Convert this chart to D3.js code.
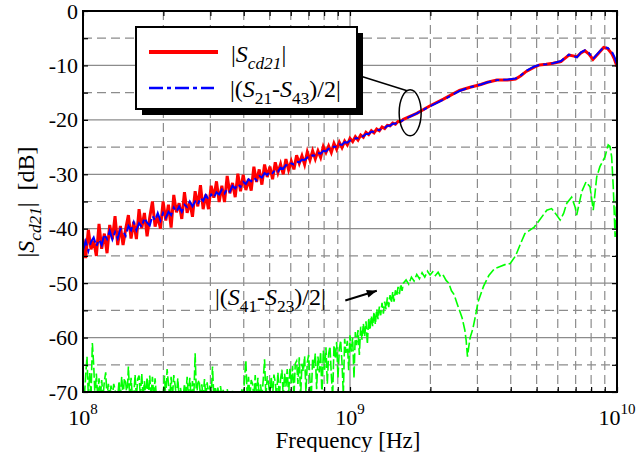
<!DOCTYPE html>
<html>
<head>
<meta charset="utf-8">
<script src="https://cdn.jsdelivr.net/npm/d3@7"></script>
</head>
<body style="margin:0;background:#fff;overflow:hidden;position:relative">
<div id="xlabel" style="position:absolute;left:0;top:429px;width:696px;text-align:center;font-family:'Liberation Serif';font-size:23px;line-height:23px;color:#000">Frequency [Hz]</div>
<script>
// |Scd21| sampled on the sweep grid 10^8.00 .. 10^9.20, every 0.01 decade
const redLowDb = [
  -41.9,-45.4,-40.2,-43.8,-42.2,-45.0,-39.1,-43.7,-40.9,-44.5,
  -39.3,-41.9,-37.7,-43.0,-39.5,-43.0,-40.0,-37.5,-41.8,-38.7,
  -41.9,-36.4,-39.9,-37.1,-41.4,-37.9,-35.0,-39.6,-37.7,-40.0,
  -35.0,-38.5,-35.6,-39.8,-33.8,-37.0,-35.3,-38.2,-33.3,-37.1,
  -35.1,-37.8,-33.1,-35.9,-32.0,-36.4,-33.7,-36.4,-32.1,-34.3,
  -31.3,-35.1,-32.1,-35.1,-30.3,-33.5,-31.6,-34.2,-29.9,-33.1,
  -30.1,-32.9,-30.9,-33.0,-28.6,-31.4,-29.1,-31.9,-28.2,-30.5,
  -28.6,-30.9,-27.8,-29.7,-28.1,-30.0,-27.2,-29.2,-27.6,-29.1,
  -26.5,-28.0,-26.6,-28.2,-25.9,-27.4,-25.7,-27.2,-25.7,-26.9,
  -24.9,-26.0,-24.8,-26.0,-24.3,-25.4,-24.1,-25.1,-23.9,-24.6,
  -23.4,-24.0,-23.1,-23.7,-22.8,-23.2,-22.3,-22.7,-22.0,-22.4,
  -21.7,-22.0,-21.3,-21.6,-21.0,-21.1,-20.6,-20.8,-20.3,-20.3,
  -19.9];
// |(S21-S43)/2| on the same grid
const blueLowDb = [
  -44.0,-42.3,-44.1,-42.4,-41.6,-43.2,-42.0,-43.0,-41.0,-41.9,
  -40.4,-42.0,-40.6,-41.8,-40.0,-40.4,-41.3,-39.5,-40.3,-38.8,
  -40.3,-39.0,-39.7,-38.0,-38.9,-39.4,-37.6,-38.5,-37.1,-38.5,
  -37.1,-38.0,-36.9,-37.5,-36.1,-36.9,-35.9,-36.9,-35.6,-36.0,
  -35.0,-35.9,-35.0,-35.6,-34.3,-34.9,-33.8,-34.6,-33.7,-34.3,
  -33.3,-33.7,-32.8,-33.5,-32.7,-33.2,-32.1,-32.6,-31.8,-32.3,
  -31.4,-31.8,-30.9,-31.3,-30.6,-31.1,-30.3,-30.6,-29.8,-30.1,
  -29.5,-29.8,-29.2,-29.5,-28.8,-29.0,-28.3,-28.5,-28.0,-28.2,
  -27.7,-27.8,-27.3,-27.4,-26.9,-27.0,-26.5,-26.6,-26.1,-26.2,
  -25.7,-25.8,-25.3,-25.4,-24.9,-25.0,-24.5,-24.6,-24.1,-24.2,
  -23.8,-23.8,-23.4,-23.4,-23.0,-23.0,-22.6,-22.6,-22.2,-22.2,
  -21.8,-21.9,-21.5,-21.5,-21.1,-21.1,-20.7,-20.7,-20.3,-20.3,
  -20.0];

// upper band, log10(f) and dB
const hiLogF  = [9.25,9.30,9.35,9.41,9.45,9.49,9.515,9.55,9.59,9.62,9.64,9.66,9.69,9.71,9.735,
                 9.76,9.79,9.80,9.82,9.85,9.865,9.88,9.895,9.91,9.93,9.95,9.965,9.98,9.99,10.0];
const redHiDb = [-18.8,-17.4,-16.2,-14.6,-14.0,-13.5,-13.1,-12.7,-12.7,-12.5,-11.9,-11.1,-10.3,-9.9,-9.8,
                 -9.6,-9.3,-8.9,-8.1,-8.4,-7.7,-7.3,-7.9,-8.9,-7.8,-6.7,-6.9,-7.8,-8.8,-10.2];
const blueHiDb = [-18.8,-17.5,-16.3,-14.7,-14.0,-13.5,-13.1,-12.7,-12.6,-12.4,-11.8,-11.0,-10.2,-9.9,-9.8,
                  -9.6,-9.2,-8.8,-8.0,-8.5,-7.6,-7.2,-7.7,-8.8,-7.7,-6.6,-6.8,-7.4,-8.4,-9.8];

// |(S41-S23)/2| on grid 10^8.000 .. 10^9.200, every 0.005 decade (values under -70 are off the plot)
const greenLowDb = [
  -69,-71,-67,-63.5,-71,-66.5,-71,-61,-65,-71,-66.6,-71,-67.5,-71,-67.8,-71,-68,-66.4,-71,-68.5,
  -71,-68.8,-71,-68.5,-69.5,-71,-71,-68,-71,-67.2,-71,-67.5,-68.3,-71,-65.3,-71,-67.4,-71,-71,-66.8,
  -71,-67.6,-67,-71,-66.6,-71,-68,-71,-67.3,-71,-67,-71,-67.2,-71,-67.5,-71,-71,-70.2,-71,-71,
  -71,-67,-71,-65.8,-68.5,-71,-67.2,-71,-66.9,-68.8,-71,-67.5,-71,-69.2,-71,-71,-68.5,-71,-67.2,-71,
  -67.4,-71,-68,-71,-62.9,-71,-68.4,-67.8,-71,-68.6,-71,-67.6,-71,-68.2,-71,-68.8,-71,-65.3,-71,-69,
  -71,-69.2,-71,-68.9,-71,-69.6,-71,-71,-69.4,-71,-71,-71,-69.8,-71,-71,-71,-70.3,-71,-71,-69.5,
  -71,-67.6,-64.2,-71,-67.2,-71,-67.8,-68.5,-71,-66.9,-71,-67.4,-71,-68.6,-71,-67.8,-64.0,-71,-67.1,-68.4,
  -71,-67.2,-71,-66.8,-68.2,-71,-66.4,-71,-67.6,-65.9,-71,-66.6,-69,-65.8,-71,-65.5,-68.4,-65.2,-71,-64.8,
  -64.3,-68.5,-63.6,-71,-64.8,-66.2,-63.4,-70,-64.6,-63.2,-67.8,-71,-63.8,-65.6,-62.9,-69.5,-63.5,-66.4,-62.6,-71,
  -62.4,-65.9,-61.8,-68.5,-63.0,-61.6,-66.8,-71,-61.4,-63.9,-60.8,-67.4,-62.2,-60.5,-64.6,-70.5,-60.2,-62.8,-60.6,-66.0,
  -59.6,-62.6,-60.0,-67.5,-59.0,-61.4,-58.6,-63.2,-58.0,-60.4,-57.4,-59.8,-57.0,-61.2,-56.4,-58.6,-56.0,-57.9,-55.3,-57.6,
  -54.8,-56.6,-54.3,-55.9,-53.6,-55.6,-53.4,-54.8,-52.6,-54.4,-52.2,-53.6,-51.6,-53.4,-51.3,-52.4,-50.7,-52.0,-50.2,-51.4,
  -50.0];
const greenHiLogF = [9.21,9.22,9.23,9.24,9.25,9.26,9.27,9.28,9.29,9.30,9.31,9.32,9.33,9.34,9.35,9.36,9.37,9.38,9.39,9.40,
  9.41,9.42,9.43,9.435,9.44,9.445,9.45,9.46,9.47,9.48,9.49,9.50,9.51,9.52,9.53,9.54,9.56,9.58,9.60,9.62,
  9.64,9.655,9.69,9.71,9.737,9.755,9.774,9.787,9.80,9.812,9.83,9.843,9.849,9.868,9.884,9.899,9.911,9.924,9.936,9.955,
  9.967,9.974,9.980,9.986,9.993,10.0];
const greenHiDb = [-49.4,-50.2,-48.9,-49.6,-48.4,-49.2,-48.1,-48.9,-47.8,-48.5,-47.9,-48.6,-48.0,-48.9,-48.6,-49.5,-50.0,-51.4,-52.1,-53.6,
  -55.0,-56.4,-58.6,-60.5,-63.5,-61.6,-60.0,-58.4,-56.0,-53.4,-52.0,-50.6,-49.6,-48.6,-48.0,-47.4,-47.0,-46.6,-46.4,-45.0,
  -42.6,-40.9,-39.7,-38.4,-36.6,-36.3,-37.5,-38.4,-37.2,-35.3,-34.2,-36.0,-37.5,-33.2,-31.4,-32.3,-36.6,-30.5,-28.6,-26.8,
  -24.6,-24.9,-26.8,-32.3,-41.5,-32.3];

const yTicks = d3.range(-70, 1, 5);
const decades = [8, 9, 10];

const W = 638, H = 452;
const L = 83, R = 617, T = 11, B = 392;
const FONT = "Liberation Serif";

const x = d3.scaleLog().domain([1e8, 1e10]).range([L, R]);
const y = d3.scaleLinear().domain([-70, 0]).range([B, T]);

// build point lists
const grid = (arr, step) => arr.map((v, i) => ({ f: Math.pow(10, 8 + i * step), v }));
const pairs = (lf, vs) => lf.map((l, i) => ({ f: Math.pow(10, l), v: vs[i] }));
const redData   = grid(redLowDb, 0.01).concat(pairs(hiLogF, redHiDb));
const blueData  = grid(blueLowDb, 0.01).concat(pairs(hiLogF, blueHiDb));
const greenData = grid(greenLowDb, 0.005).concat(pairs(greenHiLogF, greenHiDb));

const svg = d3.select("body").insert("svg", "#xlabel").attr("width", W).attr("height", H)
  .style("display", "block").attr("font-family", FONT);
svg.append("rect").attr("width", W).attr("height", H).attr("fill", "#fff");

const defs = svg.append("defs");
defs.append("clipPath").attr("id", "plot")
  .append("rect").attr("x", L).attr("y", T).attr("width", R - L).attr("height", B - T);
defs.append("marker").attr("id", "arrow")
  .attr("viewBox", "0 0 10 8").attr("refX", 10).attr("refY", 4)
  .attr("markerWidth", 11).attr("markerHeight", 8).attr("markerUnits", "userSpaceOnUse")
  .attr("orient", "auto")
  .append("path").attr("d", "M0,0L10,4L0,8z").attr("fill", "#000");

// grid
const gridG = svg.append("g").attr("stroke", "#8c8c8c").attr("stroke-width", 1.2);
gridG.selectAll(".h").data(yTicks.filter(v => v > -70 && v < 0)).enter().append("line")
  .attr("x1", L).attr("x2", R).attr("y1", d => y(d)).attr("y2", d => y(d))
  .attr("stroke-dasharray", d => d % 10 === 0 ? null : "9,5");
gridG.selectAll(".v").data(x.ticks().filter(d => d > 1e8 && d < 1e10)).enter().append("line")
  .attr("y1", T).attr("y2", B).attr("x1", d => x(d)).attr("x2", d => x(d))
  .attr("stroke-dasharray", d => Math.abs(d - 1e9) < 1 ? null : "9,5");

// curves
const line = d3.line().x(d => x(d.f)).y(d => y(d.v));
const plot = svg.append("g").attr("clip-path", "url(#plot)").attr("fill", "none");
plot.append("path").datum(greenData).attr("d", line)
  .attr("stroke", "#00ff00").attr("stroke-width", 1.6).attr("stroke-dasharray", "10,3");
plot.append("path").datum(redData).attr("d", line)
  .attr("stroke", "#ff0000").attr("stroke-width", 3).attr("stroke-linejoin", "miter");
plot.append("path").datum(blueData).attr("d", line)
  .attr("stroke", "#0000ff").attr("stroke-width", 2).attr("stroke-dasharray", "14,4,4,4");

// axes (inward ticks on all four sides)
function styleAxis(g) {
  g.select(".domain").remove();
  g.attr("font-family", FONT);
  g.selectAll("line").attr("stroke", "#000").attr("stroke-width", 1.2);
  g.selectAll("text").attr("font-size", 22).attr("fill", "#000");
}
svg.append("g").attr("transform", `translate(${L},0)`)
  .call(d3.axisLeft(y).tickValues(yTicks).tickSize(-5).tickSizeOuter(0).tickPadding(5)
    .tickFormat(d => d % 10 === 0 ? String(d) : ""))
  .call(styleAxis);
svg.append("g").attr("transform", `translate(${R},0)`)
  .call(d3.axisRight(y).tickValues(yTicks).tickSize(-5).tickSizeOuter(0).tickFormat(""))
  .call(styleAxis);
svg.append("g").attr("transform", `translate(0,${B})`)
  .call(d3.axisBottom(x).tickValues(x.ticks()).tickSize(-5).tickSizeOuter(0).tickFormat(""))
  .call(styleAxis);
svg.append("g").attr("transform", `translate(0,${T})`)
  .call(d3.axisTop(x).tickValues(x.ticks()).tickSize(-5).tickSizeOuter(0).tickFormat(""))
  .call(styleAxis);

svg.append("rect").attr("x", L).attr("y", T).attr("width", R - L).attr("height", B - T)
  .attr("fill", "none").attr("stroke", "#000").attr("stroke-width", 2);

// decade labels 10^n
const xl = svg.append("g").attr("text-anchor", "middle");
decades.forEach(n => {
  const t = xl.append("text").attr("x", x(Math.pow(10, n))).attr("y", 425).attr("font-size", 22);
  t.append("tspan").text("10");
  t.append("tspan").attr("dy", -11).attr("font-size", 15).text(n);
});

// rich text helper: parts with italic / subscript flags
function rich(t, parts, size) {
  let sub = false;
  parts.forEach(p => {
    const s = t.append("tspan").text(p.t);
    if (p.i) s.attr("font-style", "italic");
    if (p.sub && !sub) s.attr("dy", size * 0.28);
    if (!p.sub && sub) s.attr("dy", -size * 0.28);
    if (p.sub) s.attr("font-size", size * 0.72);
    sub = !!p.sub;
  });
  return t;
}
const scd21 = [{ t: "|" }, { t: "S", i: true }, { t: "cd", i: true, sub: true }, { t: "21", i: true, sub: true }];

rich(svg.append("text").attr("transform", "translate(34,202) rotate(-90)")
  .attr("text-anchor", "middle").attr("font-size", 24),
  scd21.concat([{ t: "|\u00a0\u00a0[dB]" }]), 24);

// legend
svg.append("rect").attr("x", 142).attr("y", 33).attr("width", 221).attr("height", 82).attr("fill", "#000");
svg.append("rect").attr("x", 136).attr("y", 27).attr("width", 221).attr("height", 82)
  .attr("fill", "#fff").attr("stroke", "#000").attr("stroke-width", 2);
svg.append("line").attr("x1", 149).attr("x2", 218).attr("y1", 52).attr("y2", 52)
  .attr("stroke", "#ff0000").attr("stroke-width", 4);
svg.append("line").attr("x1", 149).attr("x2", 214).attr("y1", 88).attr("y2", 88)
  .attr("stroke", "#0000ff").attr("stroke-width", 2.5).attr("stroke-dasharray", "14,4,4,4");
rich(svg.append("text").attr("x", 231).attr("y", 62).attr("font-size", 24),
  scd21.concat([{ t: "|" }]), 24);
rich(svg.append("text").attr("x", 230).attr("y", 97).attr("font-size", 24),
  [{ t: "|(" }, { t: "S", i: true }, { t: "21", sub: true }, { t: "-" }, { t: "S", i: true },
   { t: "43", sub: true }, { t: ")/2|" }], 24);

// leader line and ellipse around the red/blue pair
const ex = x(1.68e9), ey = y(-18.7);
svg.append("line").attr("x1", 357).attr("y1", 75).attr("x2", ex - 3).attr("y2", ey - 22)
  .attr("stroke", "#000").attr("stroke-width", 1.5);
svg.append("ellipse").attr("cx", ex).attr("cy", ey).attr("rx", 11).attr("ry", 23)
  .attr("fill", "none").attr("stroke", "#000").attr("stroke-width", 1.5);

// annotation for the green trace
rich(svg.append("text").attr("x", 215).attr("y", 305).attr("font-size", 24),
  [{ t: "|(" }, { t: "S", i: true }, { t: "41", sub: true }, { t: "-" }, { t: "S", i: true },
   { t: "23", sub: true }, { t: ")/2|" }], 24);
svg.append("line").attr("x1", x(9.6e8)).attr("y1", y(-53.2)).attr("x2", x(1.26e9)).attr("y2", y(-51.4))
  .attr("stroke", "#000").attr("stroke-width", 2).attr("marker-end", "url(#arrow)");

svg.selectAll("text").attr("font-family", FONT).attr("fill", "#000");
</script>
</body>
</html>
